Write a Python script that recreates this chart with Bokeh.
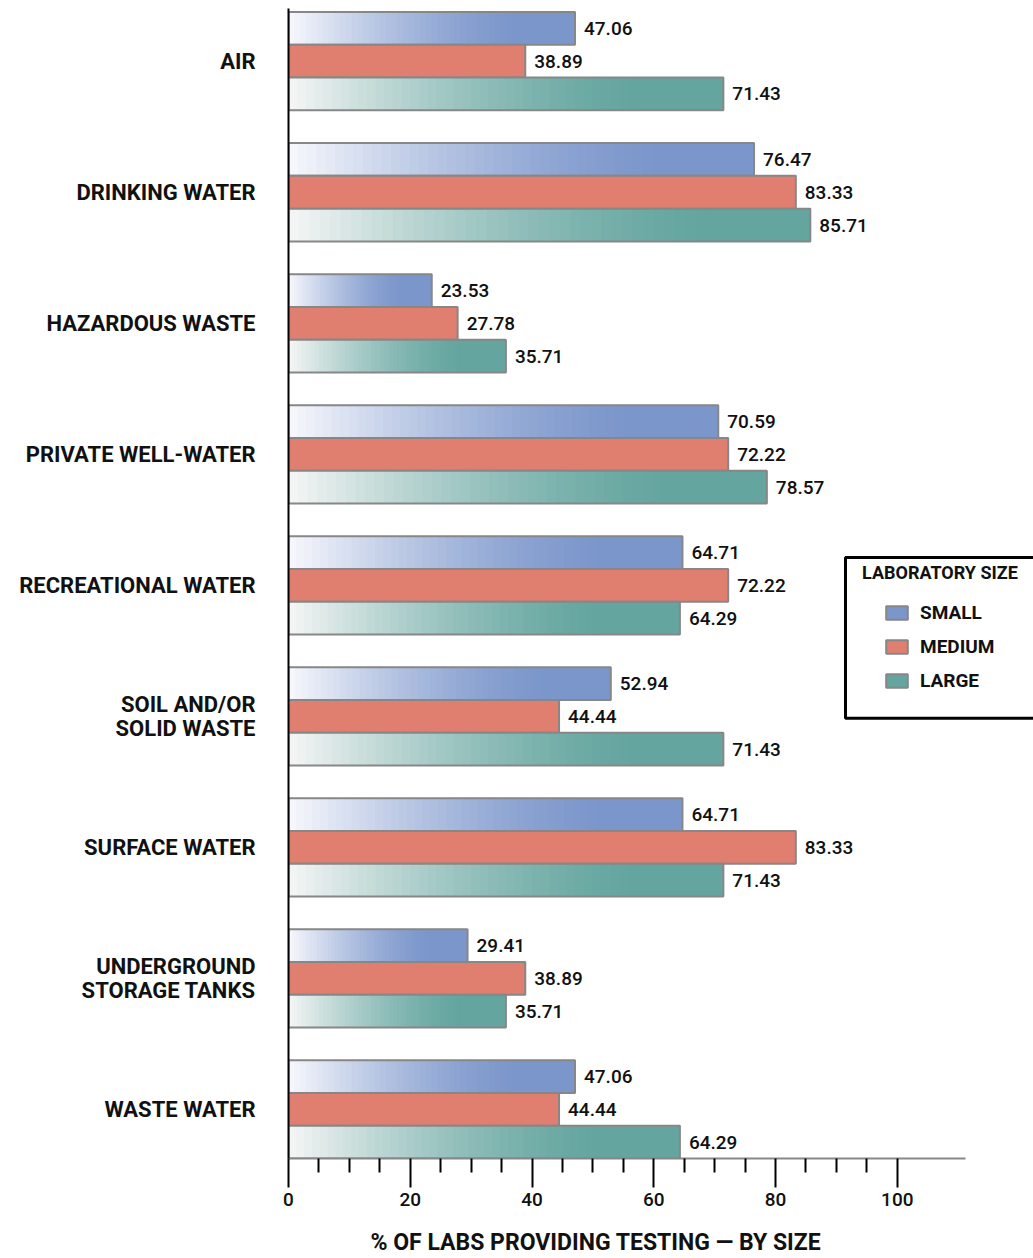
from bokeh.plotting import figure
from bokeh.models import (Range1d, FixedTicker, ColumnDataSource, Legend,
                          LegendItem, Title, BoxAnnotation)
from bokeh.core.properties import value
from bokeh.embed import file_html
from bokeh.resources import INLINE

# ---- data -------------------------------------------------------------
categories = [
    "AIR",
    "DRINKING WATER",
    "HAZARDOUS WASTE",
    "PRIVATE WELL-WATER",
    "RECREATIONAL WATER",
    "SOIL AND/OR\nSOLID WASTE",
    "SURFACE WATER",
    "UNDERGROUND\nSTORAGE TANKS",
    "WASTE WATER",
]
small = [47.06, 76.47, 23.53, 70.59, 64.71, 52.94, 64.71, 29.41, 47.06]
medium = [38.89, 83.33, 27.78, 72.22, 72.22, 44.44, 83.33, 38.89, 44.44]
large = [71.43, 85.71, 35.71, 78.57, 64.29, 71.43, 71.43, 35.71, 64.29]

series_names = ["SMALL", "MEDIUM", "LARGE"]
x_ticks = [0, 20, 40, 60, 80, 100]
x_minor_ticks = [5, 10, 15, 25, 30, 35, 45, 50, 55, 65, 70, 75, 85, 90, 95]
axis_title = "% OF LABS PROVIDING TESTING \u2014 BY SIZE"
legend_title = "LABORATORY SIZE"

# ---- styling ----------------------------------------------------------
FONT = "Roboto"
NUM_FONT = "Roboto Medium, Roboto"
TEXT = "#111111"
EDGE = "#878787"
full_colors = {"SMALL": "#7B96CB", "MEDIUM": "#E07E6F", "LARGE": "#64A59F"}
start_colors = {"SMALL": "#F6F7FC", "MEDIUM": None, "LARGE": "#F3F5F4"}
GRAD_END = 0.80      # fraction of bar length where the fade reaches full colour
GRAD_STEPS = 40

n = len(categories)
# each group: 3 bars one unit tall plus a one-unit gap; top group first
centers = [4 * (n - 1 - i) + 1.5 for i in range(n)]
offsets = {"SMALL": 1.0, "MEDIUM": 0.0, "LARGE": -1.0}
values = {"SMALL": small, "MEDIUM": medium, "LARGE": large}


def hex_to_rgb(h):
    h = h.lstrip("#")
    return tuple(int(h[k:k + 2], 16) for k in (0, 2, 4))


def mix(c0, c1, t):
    a, b = hex_to_rgb(c0), hex_to_rgb(c1)
    return "#%02x%02x%02x" % tuple(round(a[k] + (b[k] - a[k]) * t) for k in range(3))


def ease(f):
    return 1 - (1 - f) ** 1.5


# frame runs to the right edge; the x axis itself stops at 111.2
X_END = 122.37
p = figure(width=1033, height=1258,
           x_range=Range1d(0, X_END), y_range=Range1d(0, 35.11),
           output_backend="svg", toolbar_location=None,
           min_border_left=288, min_border_right=0,
           min_border_top=8, min_border_bottom=100)
p.title.visible = False
p.xgrid.visible = False
p.ygrid.visible = False
p.outline_line_color = None
p.background_fill_color = "white"
p.border_fill_color = "white"

solid_renderers = {}
outline_renderers = {}
for name in series_names:
    vals = values[name]
    ys = [c + offsets[name] for c in centers]
    full = full_colors[name]
    start = start_colors[name]
    if start is not None:
        # horizontal fade: each step covers from its start to the bar's end
        g = dict(y=[], left=[], right=[], color=[])
        for j in range(GRAD_STEPS):
            f = j / GRAD_STEPS
            col = mix(start, full, ease(f))
            for v, y in zip(vals, ys):
                g["y"].append(y)
                g["left"].append(v * GRAD_END * f)
                g["right"].append(v)
                g["color"].append(col)
        p.hbar(y="y", left="left", right="right", height=1.0,
               fill_color="color", line_color=None, source=ColumnDataSource(g))
        solid_left = [v * GRAD_END for v in vals]
    else:
        solid_left = [0] * len(vals)
    solid_renderers[name] = p.hbar(
        y=ys, left=solid_left, right=vals, height=1.0,
        fill_color=full, line_color=None)
    outline_renderers[name] = p.hbar(
        y=ys, left=0, right=vals, height=1.0,
        fill_color=None, line_color=EDGE, line_width=2)
    p.text(x=vals, y=ys, text=["%.2f" % v for v in vals],
           x_offset=9, text_align="left", text_baseline="middle",
           text_font=value(NUM_FONT), text_font_size="19px", text_color=TEXT)

# ---- axes -------------------------------------------------------------
xa = p.xaxis[0]
xa.bounds = (0, 111.2)
xa.ticker = FixedTicker(ticks=x_ticks, minor_ticks=x_minor_ticks)
xa.axis_line_color = EDGE
xa.axis_line_width = 2
xa.major_tick_line_color = "black"
xa.major_tick_line_width = 2
xa.major_tick_in = 0
xa.major_tick_out = 29
xa.minor_tick_line_color = "black"
xa.minor_tick_line_width = 2
xa.minor_tick_in = 0
xa.minor_tick_out = 14
xa.major_label_text_font = NUM_FONT
xa.major_label_text_font_size = "19px"
xa.major_label_text_color = TEXT
xa.major_label_standoff = 5

ya = p.yaxis[0]
ya.ticker = FixedTicker(ticks=centers)
ya.major_label_overrides = {c: lab for c, lab in zip(centers, categories)}
ya.axis_line_color = "black"
ya.axis_line_width = 2
ya.major_tick_line_color = None
ya.major_tick_in = 0
ya.major_tick_out = 0
ya.minor_tick_line_color = None
ya.major_label_standoff = 33
ya.major_label_text_font = FONT
ya.major_label_text_font_style = "bold"
ya.major_label_text_font_size = "22px"
ya.major_label_text_line_height = 0.95
ya.major_label_text_color = TEXT

# spacer between the tick labels and the axis title
p.add_layout(Title(text=" ", standoff=17, text_font_size="1px"), "below")
p.add_layout(Title(text=axis_title, align="left", offset=82, standoff=-4,
                   vertical_align="bottom",
                   text_font=FONT, text_font_style="bold",
                   text_font_size="23px", text_color=TEXT), "below")

# ---- legend: framed white panel at the right edge ----------------------
LEG_LEFT, LEG_TOP, LEG_BOTTOM = 91.49, 18.35, 13.44
p.add_layout(BoxAnnotation(left=LEG_LEFT, right=X_END + 10,
                           top=LEG_TOP, bottom=LEG_BOTTOM,
                           fill_color="white", fill_alpha=1.0,
                           line_color="black", line_alpha=1.0, line_width=3))

blank = p.hbar(y=[], left=[], right=[], height=1.0,
               fill_alpha=0, line_alpha=0)
legend_head = Legend(
    items=[LegendItem(label=" ", renderers=[blank])],
    location=(574, 574), title=legend_title,
    title_text_font=FONT, title_text_font_style="bold",
    title_text_font_size="18px", title_text_color=TEXT, title_standoff=0,
    border_line_color=None, background_fill_alpha=0,
    padding=0, margin=0, glyph_width=1, glyph_height=1, label_height=1,
    label_text_font_size="1px")
legend_entries = Legend(
    items=[LegendItem(label=name, renderers=[solid_renderers[name],
                                             outline_renderers[name]])
           for name in series_names],
    location=(595, 466),
    border_line_color=None, background_fill_alpha=0,
    padding=0, spacing=11, margin=0,
    glyph_width=27, glyph_height=17, label_height=20, label_standoff=10,
    label_text_font=FONT, label_text_font_style="bold",
    label_text_font_size="19px", label_text_color=TEXT)
p.add_layout(legend_head, "center")
p.add_layout(legend_entries, "center")

open("out.html", "w").write(file_html(p, INLINE))
